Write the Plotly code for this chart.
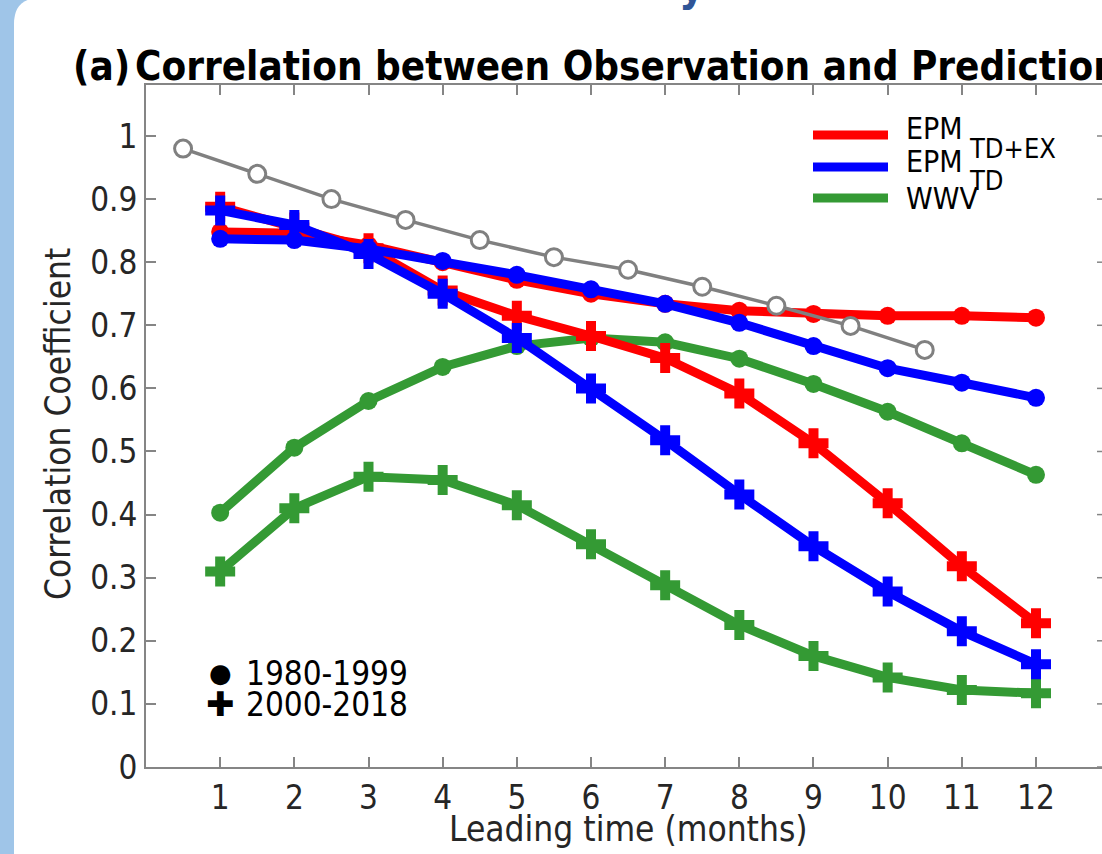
import plotly.graph_objects as go

# ---------------- data ----------------
lead = [1, 2, 3, 4, 5, 6, 7, 8, 9, 10, 11, 12]
gray_x = [0.5, 1.5, 2.5, 3.5, 4.5, 5.5, 6.5, 7.5, 8.5, 9.5, 10.5]
gray_vals = [0.980, 0.940, 0.900, 0.867, 0.835, 0.808, 0.788, 0.761, 0.731, 0.699, 0.661]

epm_tdex_8099 = [0.848, 0.846, 0.827, 0.800, 0.772, 0.750, 0.734, 0.723, 0.718, 0.715, 0.715, 0.712]
epm_td_8099 = [0.837, 0.835, 0.821, 0.802, 0.780, 0.757, 0.734, 0.704, 0.667, 0.632, 0.609, 0.585]
wwv_8099 = [0.403, 0.506, 0.580, 0.634, 0.667, 0.680, 0.673, 0.647, 0.607, 0.563, 0.513, 0.463]

epm_tdex_0018 = [0.888, 0.855, 0.822, 0.755, 0.715, 0.683, 0.648, 0.592, 0.513, 0.418, 0.318, 0.228]
epm_td_0018 = [0.882, 0.859, 0.813, 0.750, 0.680, 0.600, 0.518, 0.432, 0.350, 0.278, 0.215, 0.163]
wwv_0018 = [0.310, 0.410, 0.460, 0.455, 0.415, 0.353, 0.288, 0.225, 0.176, 0.142, 0.122, 0.117]

y_ticks = [0, 0.1, 0.2, 0.3, 0.4, 0.5, 0.6, 0.7, 0.8, 0.9, 1]
y_tick_labels = ["0", "0.1", "0.2", "0.3", "0.4", "0.5", "0.6", "0.7", "0.8", "0.9", "1"]
x_ticks = lead

panel_label = "(a)"
title_text = "Correlation between Observation and Prediction"
x_title = "Leading time (months)"
y_title = "Correlation Coefficient"
legend_names = ["EPM", "EPM", "WWV"]
legend_subs = ["TD+EX", "TD", ""]
period_names = ["1980-1999", "2000-2018"]

# ---------------- geometry ----------------
W, H = 1102, 854
L, R, T, B = 146, 1102, 85, 767
XR = [0, 12.89]
YR = [0, 1.0808]

RED, BLUE, GREEN, GRAY = "#FF0000", "#0000FF", "#349A34", "#808080"
TXT = "#262626"
FONT = "DejaVu Sans Condensed, DejaVu Sans"


def dx(px):
    return XR[0] + (px - L) / (R - L) * (XR[1] - XR[0])


def dy(py):
    return YR[0] + (B - py) / (B - T) * (YR[1] - YR[0])


def px_(px):
    return (px - L) / (R - L)


def py_(py):
    return (B - py) / (B - T)


fig = go.Figure()

LW = 9
CS = 18
PS = 25


def add_series(x, y, color, symbol, size, name):
    fig.add_trace(go.Scatter(
        x=x, y=y, mode="lines+markers", name=name, showlegend=False,
        line=dict(color=color, width=LW),
        marker=dict(symbol=symbol, size=size, color=color, line=dict(width=0)),
        cliponaxis=False,
    ))


add_series(lead, wwv_8099, GREEN, "circle", CS, "WWV 1980-1999")
add_series(lead, wwv_0018, GREEN, "cross", PS, "WWV 2000-2018")
add_series(lead, epm_tdex_8099, RED, "circle", CS, "EPM TD+EX 1980-1999")
add_series(lead, epm_tdex_0018, RED, "cross", PS, "EPM TD+EX 2000-2018")
add_series(lead, epm_td_8099, BLUE, "circle", CS, "EPM TD 1980-1999")
add_series(lead, epm_td_0018, BLUE, "cross", PS, "EPM TD 2000-2018")

fig.add_trace(go.Scatter(
    x=gray_x, y=gray_vals, mode="lines+markers", showlegend=False, name="reference",
    line=dict(color=GRAY, width=3.5),
    marker=dict(symbol="circle", size=17, color="white", line=dict(color=GRAY, width=3)),
    cliponaxis=False,
))

shapes = []
# white rounded panel over light-blue page background
rr = 26
x_left = 14
y_top = -2
path = (f"M {px_(x_left)},{py_(H + 20)} L {px_(x_left)},{py_(y_top + rr)} "
        f"Q {px_(x_left)},{py_(y_top)} {px_(x_left + rr)},{py_(y_top)} "
        f"L {px_(W + 50)},{py_(y_top)} L {px_(W + 50)},{py_(H + 20)} Z")
shapes.append(dict(type="path", xref="paper", yref="paper", path=path,
                   fillcolor="white", line=dict(width=0), layer="below"))

# inward ticks of the (cropped) right axis, just visible at the edge
for v in y_ticks:
    shapes.append(dict(type="line", xref="paper", yref="y", x0=px_(1097), x1=px_(1103),
                       y0=v, y1=v, line=dict(color="#858585", width=1.5)))

# legend lines
leg_y = [135, 167, 198]
for c, yy in zip([RED, BLUE, GREEN], leg_y):
    shapes.append(dict(type="line", xref="x", yref="y", x0=dx(813), x1=dx(888),
                       y0=dy(yy), y1=dy(yy), line=dict(color=c, width=9)))

ann = []
# title
ann.append(dict(text=f"<b>{panel_label}</b>", xref="paper", yref="paper",
                x=px_(71), y=py_(66), xanchor="left", yanchor="middle", showarrow=False,
                font=dict(family=FONT, size=40, color="black")))
ann.append(dict(text=f"<b>{title_text}</b>", xref="paper", yref="paper",
                x=px_(133), y=py_(66), xanchor="left", yanchor="middle", showarrow=False,
                font=dict(family=FONT, size=40, color="black")))
# partial heading above (cropped)
ann.append(dict(text="<b>y</b>", xref="paper", yref="paper", x=px_(692), y=py_(-14),
                xanchor="center", yanchor="middle", showarrow=False,
                font=dict(family=FONT, size=44, color="#2F5597")))
# axis titles
ann.append(dict(text=x_title, xref="paper", yref="paper", x=px_(628), y=py_(829),
                xanchor="center", yanchor="middle", showarrow=False,
                font=dict(family=FONT, size=35, color=TXT)))
ann.append(dict(text=y_title, xref="paper", yref="paper", x=px_(58), y=py_(424),
                xanchor="center", yanchor="middle", showarrow=False, textangle=-90,
                font=dict(family=FONT, size=35, color=TXT)))
# legend text
main_y = [128, 161, 198]
sub_y = [148, 180]
for i, nm in enumerate(legend_names):
    ann.append(dict(text=nm, xref="x", yref="y", x=dx(904), y=dy(main_y[i]),
                    xanchor="left", yanchor="middle", showarrow=False,
                    font=dict(family=FONT, size=30, color="black")))
    if legend_subs[i]:
        ann.append(dict(text=legend_subs[i], xref="x", yref="y", x=dx(967), y=dy(sub_y[i]),
                        xanchor="left", yanchor="middle", showarrow=False,
                        font=dict(family=FONT, size=27, color="black")))
# period legend
sym = ["\u25CF", "\u271A"]
sym_size = [26, 34]
per_y = [673, 704]
for i, nm in enumerate(period_names):
    ann.append(dict(text=sym[i], xref="x", yref="y", x=dx(220), y=dy(per_y[i]),
                    xanchor="center", yanchor="middle", showarrow=False,
                    font=dict(family="DejaVu Sans", size=sym_size[i], color="black")))
    ann.append(dict(text=nm, xref="x", yref="y", x=dx(244), y=dy(per_y[i]),
                    xanchor="left", yanchor="middle", showarrow=False,
                    font=dict(family=FONT, size=33, color="black")))

axis_common = dict(showline=True, linecolor="#858585", linewidth=2, ticks="inside",
                   ticklen=10, tickwidth=1.5, tickcolor="#858585", showgrid=False,
                   zeroline=False, tickfont=dict(family=FONT, size=33, color=TXT))

fig.update_layout(
    width=W, height=H,
    margin=dict(l=L, r=W - R, t=T, b=H - B, pad=0),
    paper_bgcolor="#9FC5E8", plot_bgcolor="rgba(0,0,0,0)",
    showlegend=False,
    xaxis=dict(range=XR, tickvals=x_ticks, mirror="ticks", **axis_common),
    yaxis=dict(range=YR, tickvals=y_ticks, ticktext=y_tick_labels, **axis_common),
    shapes=shapes, annotations=ann,
)

fig.write_html("out.html", config={"displayModeBar": False},
               post_script="document.body.style.margin='0';document.body.style.overflow='hidden';")
